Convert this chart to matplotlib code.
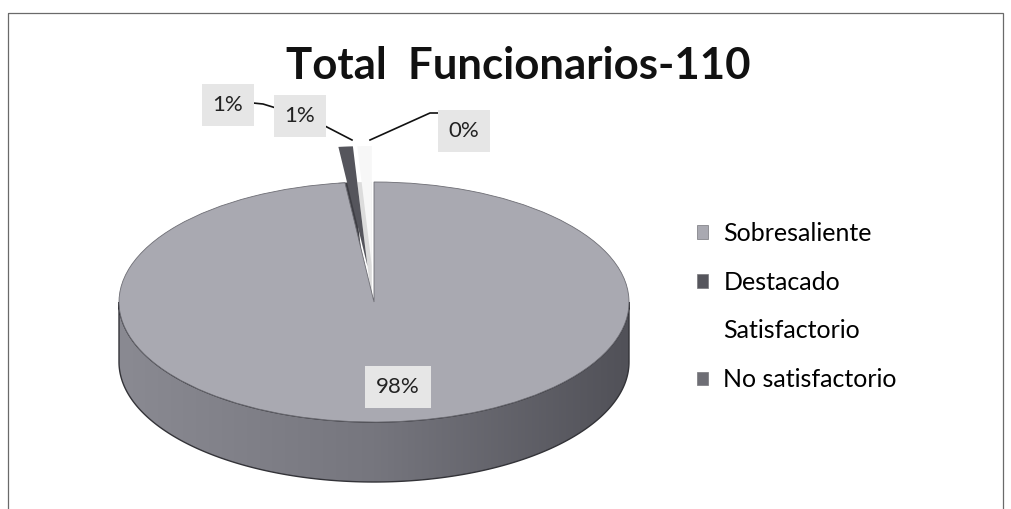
import numpy as np
import matplotlib.pyplot as plt
from matplotlib.patches import Rectangle, Polygon, Patch
from matplotlib.colors import LinearSegmentedColormap

categorias = ['Sobresaliente', 'Destacado', 'Satisfactorio', 'No satisfactorio']
funcionarios = [108, 1, 1, 0]
titulo = 'Total  Funcionarios-110'

colores = ['#a9a9b1', '#55555c', '#f7f7f7', '#6e6e75']
explode = [0, 0.3, 0.3, 0.3]

FONT = 'Lato'
W, H = 1011, 509
cx, cy, rx, ry = 374, 302, 255, 120
d = 60 / ry   # espesor del "3D" en unidades del eje


def px_axes(fig):
    ax = fig.add_axes([0, 0, 1, 1])
    ax.set_xlim(0, W)
    ax.set_ylim(H, 0)
    ax.axis('off')
    ax.patch.set_alpha(0)
    return ax


def main():
    fig = plt.figure(figsize=(W / 100, H / 100), dpi=100)
    fig.patch.set_facecolor('white')
    ax0 = px_axes(fig)
    ax0.add_patch(Rectangle((8, 13), 995, 510, fill=False, edgecolor='#6a6a6a', lw=0.9))
    ax0.text(518, 66, titulo, ha='center', va='center', fontsize=31.5,
             fontweight='bold', family=FONT, color='#111111')

    # eje de la torta, escalado para que el circulo quede eliptico
    x0, x1, y0, y1 = -1.1, 1.1, -1.6, 1.45
    left = (cx + x0 * rx) / W
    bottom = (H - (cy - y0 * ry)) / H
    ax = fig.add_axes([left, bottom, (x1 - x0) * rx / W, (y1 - y0) * ry / H])
    ax.axis('off')

    # pared lateral con sombreado
    t = np.linspace(np.pi, 2 * np.pi, 200)
    top = np.column_stack([np.cos(t), np.sin(t)])
    bot = np.column_stack([np.cos(t[::-1]), np.sin(t[::-1]) - d])
    pared = Polygon(np.vstack([top, bot]), closed=True, facecolor='none',
                    edgecolor='#333338', lw=1.0, zorder=1)
    ax.add_patch(pared)
    grad = np.linspace(0, 1, 256).reshape(1, -1)
    cmap = LinearSegmentedColormap.from_list('pared', ['#8a8a92', '#76767e', '#515158'])
    im = ax.imshow(grad, extent=[-1, 1, -1 - d, 0], cmap=cmap, aspect='auto', zorder=0.9)
    im.set_clip_path(pared)

    # pared de la porcion separada (Destacado)
    sombra, _ = ax.pie(funcionarios, colors=['none', '#3e3e44', '#dcdcdc', 'none'],
                       startangle=90, counterclock=False, explode=explode,
                       center=(0, -d * 0.6), radius=1, frame=True)
    for w in sombra:
        w.set_zorder(1.5)

    cara, _ = ax.pie(funcionarios, colors=colores, startangle=90, counterclock=False,
                     explode=explode, radius=1, frame=True,
                     wedgeprops=dict(edgecolor='none'))
    for w in cara:
        w.set_zorder(2)
    cara[0].set_edgecolor('#6d6d74')
    cara[0].set_linewidth(0.6)

    ax.set_xlim(x0, x1)
    ax.set_ylim(y0, y1)
    ax.set_aspect('auto')
    ax.axis('off')

    # etiquetas de porcentaje (encima de la torta)
    ax2 = px_axes(fig)
    total = sum(funcionarios)
    pct = ['%d%%' % round(v * 100 / total) for v in funcionarios]
    pos = [(398, 387), (228, 105), (300, 116), (464, 131)]
    for p, (x, y) in zip(pct, pos):
        ax2.text(x, y, p, ha='center', va='center', fontsize=16, family=FONT,
                 color='#222222', zorder=5,
                 bbox=dict(boxstyle='square,pad=0.5', facecolor='#e6e6e6', edgecolor='none'))
    lineas = [[(253, 103), (263, 104), (276, 108)],
              [(323, 125), (352, 140)],
              [(441, 113), (430, 113), (370, 140)]]
    for ln in lineas:
        xs, ys = zip(*ln)
        ax2.plot(xs, ys, color='#111111', lw=1.2, zorder=4)

    handles = [Patch(facecolor=c, edgecolor='#77777c', lw=0.5) for c in colores]
    handles[2] = Patch(facecolor='white', edgecolor='none')
    fig.legend(handles, categorias, loc='upper left', bbox_to_anchor=(697 / W, 1 - 222 / H),
               frameon=False, borderpad=0, borderaxespad=0, handlelength=0.45,
               handleheight=0.45, handletextpad=0.6, labelspacing=1.03,
               prop=dict(family=FONT, size=18))

    fig.savefig('out.png', dpi=100)


main()
